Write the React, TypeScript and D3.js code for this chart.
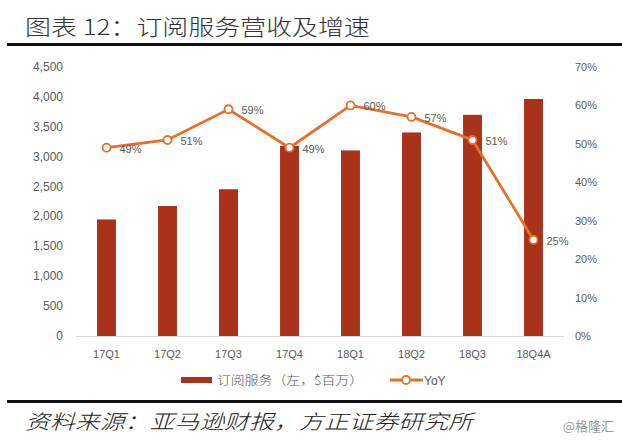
import { FC } from "react";
import * as d3 from "d3";

const W = 622;
const H = 440;

const quarters = ["17Q1", "17Q2", "17Q3", "17Q4", "18Q1", "18Q2", "18Q3", "18Q4A"];
const revenue = [1950, 2175, 2455, 3180, 3105, 3405, 3700, 3965];
const yoy = [0.49, 0.51, 0.59, 0.49, 0.6, 0.57, 0.51, 0.25];
const leftTicks = [0, 500, 1000, 1500, 2000, 2500, 3000, 3500, 4000, 4500];
const rightTicks = [0, 0.1, 0.2, 0.3, 0.4, 0.5, 0.6, 0.7];

const BAR = "#A8321A";
const LINE = "#E6702A";
const GREY = "#595959";
const SANS = "'Liberation Sans', Arial, sans-serif";
const CJK = "'Noto Sans CJK SC', sans-serif";

const App: FC = () => {
  const x = d3
    .scaleBand<string>()
    .domain(quarters)
    .range([76, 564])
    .paddingInner(0.69)
    .paddingOuter(0.345);
  const yL = d3.scaleLinear().domain([0, 4500]).range([336, 67]);
  const yR = d3.scaleLinear().domain([0, 0.7]).range([336, 67]);
  const cx = (q: string) => (x(q) ?? 0) + x.bandwidth() / 2;

  const fmtL = d3.format(",d");
  const fmtR = d3.format(".0%");

  const line = d3
    .line<number>()
    .x((_, i) => cx(quarters[i]))
    .y((d) => yR(d));

  return (
    <svg
      width={W}
      height={H}
      style={{ position: "absolute", left: 0, top: 0, background: "#fff" }}
    >
      <rect width={W} height={H} fill="#fff" />
      {/* title */}
      <text x={25} y={35} fontFamily={CJK} fontWeight={300} fontSize={22} fill="#333" textLength={345} lengthAdjust="spacingAndGlyphs">
        图表 12：订阅服务营收及增速
      </text>
      <rect x={7} y={43} width={W - 7} height={3} fill="#111" />

      {/* axes */}
      <line x1={76} x2={564} y1={336.5} y2={336.5} stroke="#d9d9d9" strokeWidth={1} />
      {leftTicks.map((t) => (
        <text key={t} x={63} y={yL(t) + 4} textAnchor="end" fontFamily={SANS} fontSize={12} fill={GREY}>
          {fmtL(t)}
        </text>
      ))}
      {rightTicks.map((t) => (
        <text key={t} x={575} y={yR(t) + 4} fontFamily={SANS} fontSize={11} fill={GREY}>
          {fmtR(t)}
        </text>
      ))}
      {quarters.map((q) => (
        <text key={q} x={cx(q)} y={358} textAnchor="middle" fontFamily={SANS} fontSize={11} fill={GREY}>
          {q}
        </text>
      ))}

      {/* bars */}
      {quarters.map((q, i) => (
        <rect
          key={q}
          x={x(q)}
          y={yL(revenue[i])}
          width={x.bandwidth()}
          height={yL(0) - yL(revenue[i])}
          fill={BAR}
        />
      ))}

      {/* line */}
      <path d={line(yoy) ?? ""} fill="none" stroke={LINE} strokeWidth={2.8} />
      {yoy.map((v, i) => (
        <g key={i}>
          <circle cx={cx(quarters[i])} cy={yR(v)} r={4} fill="#fff" stroke={LINE} strokeWidth={1.8} />
          <text x={cx(quarters[i]) + 13} y={yR(v) + 5} fontFamily={SANS} fontSize={11} fill={GREY}>
            {fmtR(v)}
          </text>
        </g>
      ))}

      {/* legend */}
      <rect x={181} y={377} width={31} height={6} fill={BAR} />
      <text x={217} y={384.5} fontFamily={CJK} fontWeight={300} fontSize={12.5} fill={GREY} textLength={146} lengthAdjust="spacingAndGlyphs">
        订阅服务（左，$百万）
      </text>
      <line x1={390} x2={423} y1={380} y2={380} stroke={LINE} strokeWidth={2.8} />
      <circle cx={406} cy={380} r={4} fill="#fff" stroke={LINE} strokeWidth={1.8} />
      <text x={424} y={384.5} fontFamily={SANS} fontSize={12} fill={GREY}>
        YoY
      </text>

      {/* footer */}
      <rect x={7} y={400} width={W - 7} height={3} fill="#111" />
      <text x={25} y={429} fontFamily={CJK} fontWeight={300} fontStyle="italic" fontSize={20} fill="#222" textLength={448} lengthAdjust="spacingAndGlyphs">
        资料来源：亚马逊财报，方正证券研究所
      </text>
      <text x={614} y={431} textAnchor="end" fontFamily={CJK} fontSize={13} fill="#999">
        @格隆汇
      </text>
    </svg>
  );
};

export default App;
